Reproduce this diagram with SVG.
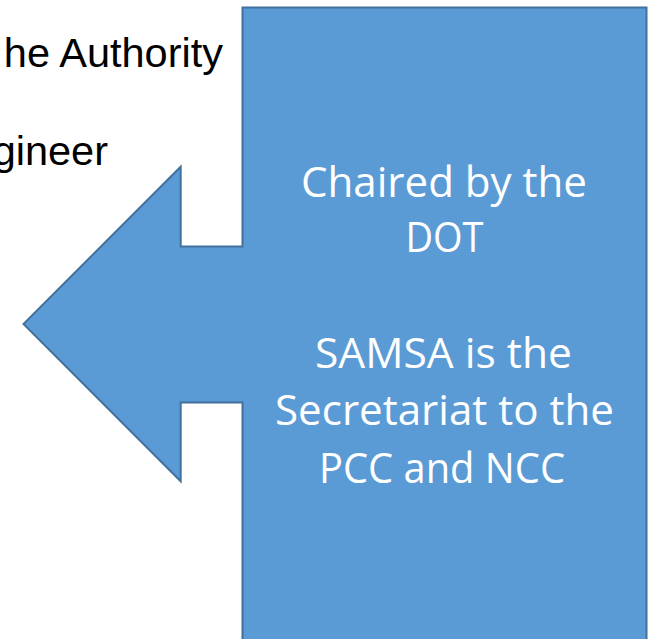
<svg xmlns="http://www.w3.org/2000/svg" width="659" height="639" viewBox="0 0 659 639">
  <style>
    .page { font-family: "Liberation Sans", Arial, sans-serif; font-size: 41.5px; fill: #000000; }
    .callout { fill: #5B9BD5; stroke: #41719C; stroke-width: 2; stroke-linejoin: miter; }
    .label { font-family: "Open Sans", "Noto Sans", sans-serif; font-size: 42px; fill: #FFFFFF; text-anchor: middle; }
  </style>

  <rect width="659" height="639" fill="#FFFFFF"/>

  <!-- Body text running off the left edge of the page -->
  <g id="page-text">
    <text class="page" x="223" y="67" text-anchor="end">he Authority</text>
    <text class="page" x="108" y="165" text-anchor="end">gineer</text>
  </g>

  <!-- Left-arrow callout -->
  <g id="callout">
    <path class="callout" d="M242.5,7.5 H646.5 V660 H242.5 V402.5 H180.7 V481.3 L23.5,324 L180.7,166.7 V246.5 H242.5 Z"/>
    <text class="label" x="444" y="197" textLength="286" lengthAdjust="spacingAndGlyphs">Chaired by the</text>
    <text class="label" x="444.5" y="252" textLength="78" lengthAdjust="spacingAndGlyphs">DOT</text>
    <text class="label" x="443.5" y="368" textLength="257" lengthAdjust="spacingAndGlyphs">SAMSA is the</text>
    <text class="label" x="444.5" y="425" textLength="339" lengthAdjust="spacingAndGlyphs">Secretariat to the</text>
    <text class="label" x="442" y="483" textLength="246" lengthAdjust="spacingAndGlyphs">PCC and NCC</text>
  </g>
</svg>
